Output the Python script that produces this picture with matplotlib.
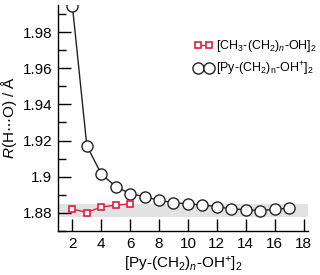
import matplotlib
matplotlib.use("Agg")
import matplotlib.pyplot as plt

plt.rcParams['font.family'] = ['Liberation Sans', 'DejaVu Sans']
plt.rcParams['mathtext.fontset'] = 'custom'
plt.rcParams['mathtext.rm'] = 'Liberation Sans'
plt.rcParams['mathtext.it'] = 'Liberation Sans:italic'

n_py = [2, 3, 4, 5, 6, 7, 8, 9, 10, 11, 12, 13, 14, 15, 16, 17]
r_py = [1.9946, 1.9172, 1.9015, 1.8946, 1.8906, 1.8890, 1.8869, 1.8857, 1.8850,
        1.8844, 1.8835, 1.8822, 1.8818, 1.8813, 1.8820, 1.8826]
n_ch3 = [2, 3, 4, 5, 6]
r_ch3 = [1.8822, 1.8802, 1.8833, 1.8843, 1.8850]
band = (1.8780, 1.8850)

fig = plt.figure(figsize=(3.2, 2.75), dpi=100)
ax = fig.add_axes([0.181, 0.16, 0.781, 0.822])

ax.fill_between([1.1, 18.3], band[0], band[1], color='#e0e3e1', lw=0, zorder=0)
ax.plot(n_ch3, r_ch3, '-s', color='#dd2040', mfc='white', mec='#dd2040',
        ms=4.5, lw=1, mew=1.2, label=r'[CH$_3$-(CH$_2$)$_{\it n}$-OH]$_2$', zorder=3)
ax.plot(n_py, r_py, '-o', color='#222222', mfc='white', mec='#222222',
        ms=8, lw=1, mew=1, label=r'[Py-(CH$_2$)$_\mathrm{n}$-OH$^{+}$]$_2$', zorder=2)

ax.set_xlim(1.0, 18.3)
ax.set_ylim(1.87, 1.995)
ax.set_xticks([2, 4, 6, 8, 10, 12, 14, 16, 18])
ax.set_yticks([1.88, 1.90, 1.92, 1.94, 1.96, 1.98])
ax.set_yticklabels(['1.88', '1.9', '1.92', '1.94', '1.96', '1.98'])
ax.set_yticks([1.87, 1.89, 1.91, 1.93, 1.95, 1.97, 1.99], minor=True)
ax.tick_params(axis='both', which='major', direction='in', length=9, width=1,
               labelsize=11, pad=4)
ax.tick_params(axis='y', which='minor', direction='in', length=6, width=1)
ax.spines['top'].set_visible(False)
ax.spines['right'].set_visible(False)
for s in ('left', 'bottom'):
    ax.spines[s].set_linewidth(1)

ax.set_ylabel(r'$\it{R}$(H$\cdots$O) / Å', fontsize=11, labelpad=3)
ax.set_xlabel(r'[Py-(CH$_2$)$_{\it n}$-OH$^{+}$]$_2$', fontsize=11, labelpad=3)

ax.legend(loc='upper left', bbox_to_anchor=(194 / 320, 1 - 38 / 275),
          bbox_transform=fig.transFigure, frameon=False,
          fontsize=9, numpoints=2, handlelength=1.5, handletextpad=0.3,
          borderaxespad=0, borderpad=0, labelspacing=0.45)

fig.savefig('out.png', dpi=100)
